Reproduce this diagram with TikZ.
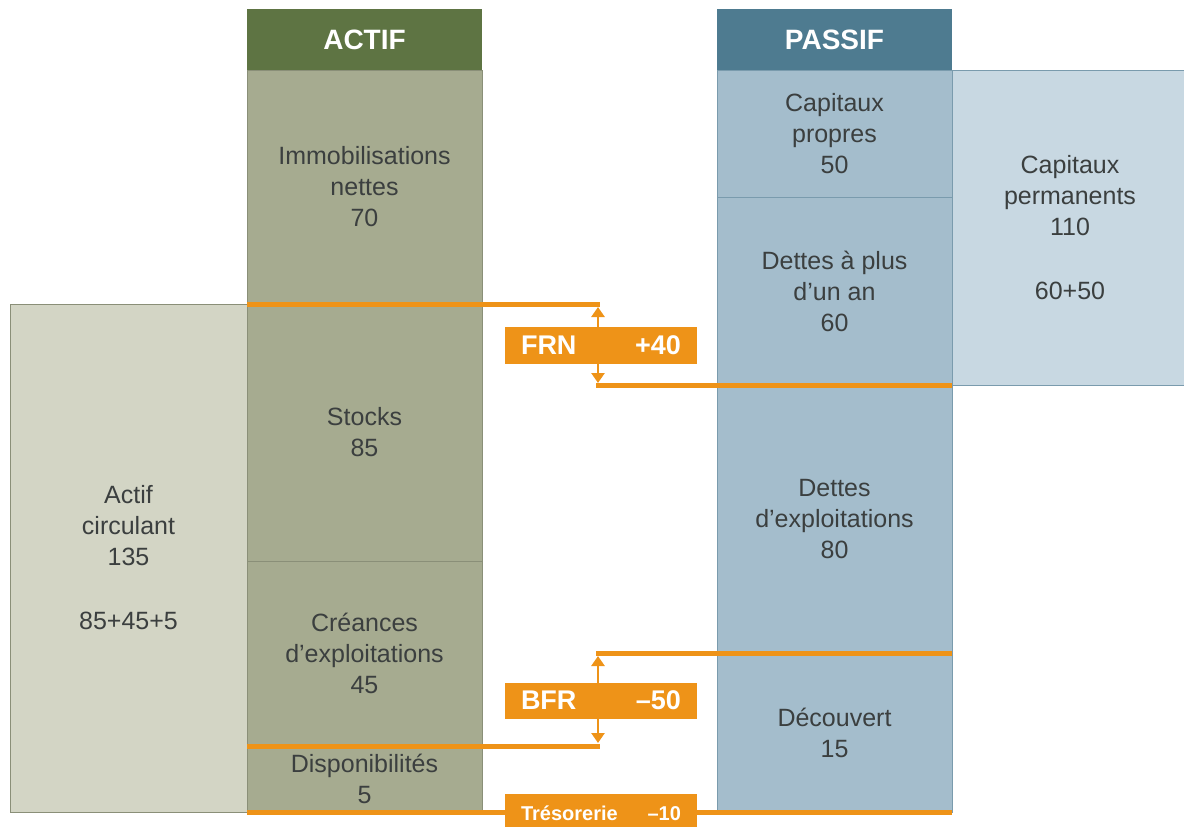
\documentclass[tikz,border=0pt]{standalone}
\usepackage{fontspec}
\setmainfont{Liberation Sans}
\usetikzlibrary{arrows.meta}
\definecolor{actifHead}{HTML}{5E7443}
\definecolor{actifBody}{HTML}{A6AB90}
\definecolor{actifLight}{HTML}{D3D5C5}
\definecolor{actifBorder}{HTML}{8A8F78}
\definecolor{passifHead}{HTML}{4E7B90}
\definecolor{passifBody}{HTML}{A4BDCC}
\definecolor{passifLight}{HTML}{C8D8E2}
\definecolor{passifBorder}{HTML}{7A9BAD}
\definecolor{orangeC}{HTML}{EE9318}
\definecolor{textgray}{HTML}{3B3F3F}
\begin{document}
\begin{tikzpicture}[x=1pt,y=-1pt,
  cell/.style={draw, line width=0.8pt, inner sep=0pt, outer sep=0pt, align=center,
    font=\fontsize{25}{31}\selectfont, text=textgray},
  acell/.style={cell, fill=actifBody, draw=actifBorder},
  pcell/.style={cell, fill=passifBody, draw=passifBorder},
  head/.style={inner sep=0pt, outer sep=0pt, text=white, font=\bfseries\fontsize{28}{31}\selectfont},
  oline/.style={draw=orangeC, line width=5pt},
  oarrow/.style={draw=orangeC, line width=2.8pt, {Triangle[width=13pt,length=10pt]}-{Triangle[width=13pt,length=10pt]}},
  obox/.style={fill=orangeC, inner sep=0pt, outer sep=0pt, minimum width=192pt, text=white}
]
\useasboundingbox (0,0) rectangle (1184,827);

% left and right summary boxes
\node[cell, fill=actifLight, draw=actifBorder, minimum width=237pt, minimum height=508pt] (ac) at (128.5,558)
  {Actif\\circulant\\135\\[33pt]85+45+5};
\node[cell, fill=passifLight, draw=passifBorder, minimum width=236pt, minimum height=315pt] (cperm) at (1070,227.5)
  {Capitaux\\permanents\\110\\[33pt]60+50};

% ACTIF column
\node[head, fill=actifHead, minimum width=235pt, minimum height=61pt] (actif) at (364.5,39.5) {ACTIF};
\node[acell, minimum width=235pt, minimum height=234pt] (immo) at (364.5,187) {Immobilisations\\nettes\\70};
\node[acell, minimum width=235pt, minimum height=257pt] (stocks) at (364.5,432.5) {Stocks\\85};
\node[acell, minimum width=235pt, minimum height=185pt] (creances) at (364.5,653.5) {Créances\\d’exploitations\\45};
\node[acell, minimum width=235pt, minimum height=66pt] (dispo) at (364.5,779) {Disponibilités\\5};

% PASSIF column
\node[head, fill=passifHead, minimum width=235pt, minimum height=61pt] (passif) at (834.5,39.5) {PASSIF};
\node[pcell, minimum width=235pt, minimum height=127pt] (cp) at (834.5,133.5) {Capitaux\\propres\\50};
\node[pcell, minimum width=235pt, minimum height=188pt] (dlt) at (834.5,291) {Dettes à plus\\d’un an\\60};
\node[pcell, minimum width=235pt, minimum height=268pt] (dex) at (834.5,519) {Dettes\\d’exploitations\\80};
\node[pcell, minimum width=235pt, minimum height=159pt] (dec) at (834.5,732.5) {Découvert\\15};

% FRN
\coordinate (frnA) at (600,304);
\coordinate (frnB) at (596,385);
\coordinate (frnT) at (598,307);
\coordinate (frnU) at (598,383);
\draw[oline] (immo.south west) -- (frnA);
\draw[oline] (dlt.south east) -- (frnB);
\draw[oarrow] (frnT) -- (frnU);
\node[obox, minimum height=37pt, font=\bfseries\fontsize{27}{30}\selectfont] (frn) at (601,345.5)
  {\makebox[160pt]{FRN\hfill+40}};

% BFR
\coordinate (bfrA) at (596,653);
\coordinate (bfrB) at (600,746);
\coordinate (bfrT) at (598,656);
\coordinate (bfrU) at (598,743);
\draw[oline] (dex.south east) -- (bfrA);
\draw[oline] (creances.south west) -- (bfrB);
\draw[oarrow] (bfrT) -- (bfrU);
\node[obox, minimum height=36pt, font=\bfseries\fontsize{27}{30}\selectfont] (bfr) at (601,700.5)
  {\makebox[160pt]{BFR\hfill–50}};

% Trésorerie
\draw[oline] (dispo.south west) -- (dec.south east);
\node[obox, minimum height=38pt, font=\bfseries\fontsize{20}{24}\selectfont] (treso) at (601,813)
  {\makebox[160pt]{Trésorerie\hfill–10}};
\end{tikzpicture}
\end{document}
